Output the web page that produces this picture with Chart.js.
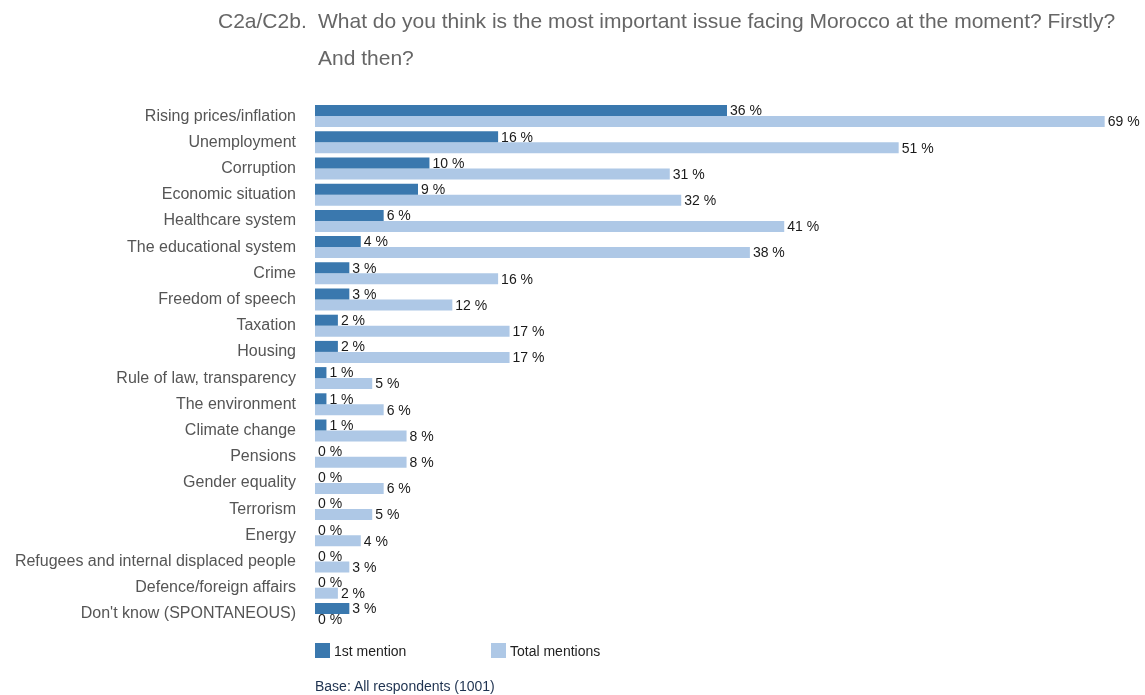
<!DOCTYPE html>
<html>
<head>
<meta charset="utf-8">
<script src="https://cdn.jsdelivr.net/npm/chart.js@4.4.0/dist/chart.umd.min.js"></script>
<style>
    html, body { margin: 0; padding: 0; background: #fff; }
    body { width: 1145px; height: 695px; position: relative; overflow: hidden; font-family: "Liberation Sans", Arial, sans-serif; }
    #wrap { position: absolute; left: 0; top: 0; width: 1145px; height: 695px; }
    .title { position: absolute; left: 218px; top: 2px; display: flex; font-size: 21px; color: #666; line-height: 37px; }
    .title .code { width: 100px; }
    .title .text { width: 815px; }
    .legend { position: absolute; left: 315px; top: 643px; font-size: 14px; color: #222; }
    .legend span { position: absolute; white-space: nowrap; top: 0; line-height: 16px; }
    .legend i { display: inline-block; width: 15px; height: 15px; vertical-align: top; margin-right: 4px; }
    .base { position: absolute; left: 315px; top: 678px; font-size: 14px; color: #1e3250; }
</style>
</head>
<body>
<div id="wrap"><canvas id="issuesChart" width="1145" height="695"></canvas></div>
<div class="title"><div class="code">C2a/C2b.</div><div class="text">What do you think is the most important issue facing Morocco at the moment? Firstly? And then?</div></div>
<div class="legend">
    <span style="left:0"><i style="background:#3a78ae"></i>1st mention</span>
    <span style="left:176px"><i style="background:#aec8e6"></i>Total mentions</span>
</div>
<div class="base">Base: All respondents (1001)</div>
<script>
const categories = [
    'Rising prices/inflation', 'Unemployment', 'Corruption', 'Economic situation',
    'Healthcare system', 'The educational system', 'Crime', 'Freedom of speech',
    'Taxation', 'Housing', 'Rule of law, transparency', 'The environment',
    'Climate change', 'Pensions', 'Gender equality', 'Terrorism', 'Energy',
    'Refugees and internal displaced people', 'Defence/foreign affairs',
    "Don't know (SPONTANEOUS)"
];
const firstMention = [36, 16, 10, 9, 6, 4, 3, 3, 2, 2, 1, 1, 1, 0, 0, 0, 0, 0, 0, 3];
const totalMentions = [69, 51, 31, 32, 41, 38, 16, 12, 17, 17, 5, 6, 8, 8, 6, 5, 4, 3, 2, 0];

// writes "NN %" right after the end of each bar
const valueLabels = {
    id: 'valueLabels',
    afterDatasetsDraw(chart) {
        const ctx = chart.ctx;
        ctx.save();
        ctx.font = '14px "Liberation Sans", Arial, sans-serif';
        ctx.fillStyle = '#1a1a1a';
        ctx.textAlign = 'left';
        ctx.textBaseline = 'middle';
        chart.data.datasets.forEach((ds, i) => {
            chart.getDatasetMeta(i).data.forEach((bar, j) => {
                ctx.fillText(ds.data[j] + ' %', bar.x + 3, bar.y + 1);
            });
        });
        ctx.restore();
    }
};

new Chart(document.getElementById('issuesChart'), {
    type: 'bar',
    data: {
        labels: categories,
        datasets: [
            { label: '1st mention', data: firstMention, backgroundColor: '#3a78ae' },
            { label: 'Total mentions', data: totalMentions, backgroundColor: '#aec8e6' }
        ]
    },
    options: {
        indexAxis: 'y',
        responsive: false,
        animation: false,
        datasets: { bar: { categoryPercentage: 0.84, barPercentage: 1.0 } },
        layout: { padding: { top: 103, bottom: 68, right: 6, left: 0 } },
        scales: {
            x: { display: false, min: 0, max: 72 },
            y: {
                grid: { display: false },
                border: { display: false },
                afterFit: scale => { scale.width = 315; },
                ticks: {
                    padding: 11,
                    color: '#555',
                    font: { size: 16, family: '"Liberation Sans", Arial, sans-serif' }
                }
            }
        },
        plugins: {
            legend: { display: false },
            tooltip: { enabled: false }
        }
    },
    plugins: [valueLabels]
});
</script>
</body>
</html>
